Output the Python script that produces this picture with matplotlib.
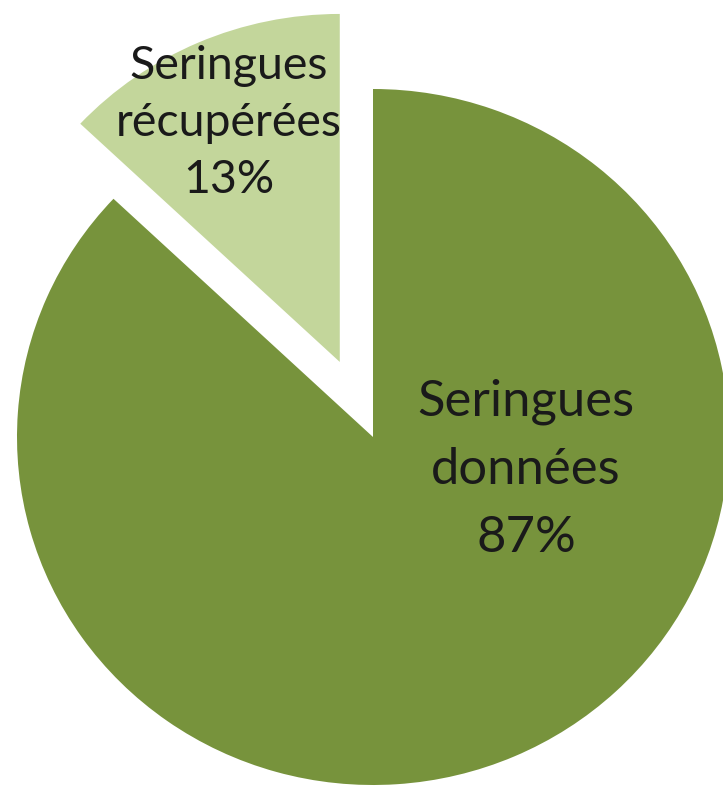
import matplotlib.pyplot as plt

labels = ["Seringues\ndonnées", "Seringues\nrécupérées"]
values = [87, 13]
colors = ["#77933C", "#C3D69B"]

plt.rcParams['font.family'] = ['Lato', 'DejaVu Sans']

fig = plt.figure(figsize=(7.23, 7.90), dpi=100)
ax = fig.add_axes([0, 0, 1, 1])

wedges, _ = ax.pie(values, colors=colors, startangle=90, counterclock=False,
                   explode=[0, 0.235], radius=1,
                   wedgeprops=dict(linewidth=0))

# center (373, 437) px, rx 356, ry 348
ax.set_aspect('auto')
ax.set_xlim(-373 / 356, (723 - 373) / 356)
ax.set_ylim(-(790 - 437) / 348, 437 / 348)
ax.axis('off')

# label positions and sizes
pos = [((526 - 373) / 356, (437 - 470) / 348),
       ((229 - 373) / 356, (437 - 123) / 348)]
sizes = [36.5, 33.5]
spacing = [1.59, 1.43]
for (x, y), lab, v, fs, ls in zip(pos, labels, values, sizes, spacing):
    ax.text(x, y, f"{lab}\n{v}%", ha='center', va='center',
            fontsize=fs, color='#1a1a1a', linespacing=ls)

fig.savefig("out.png", dpi=100)
